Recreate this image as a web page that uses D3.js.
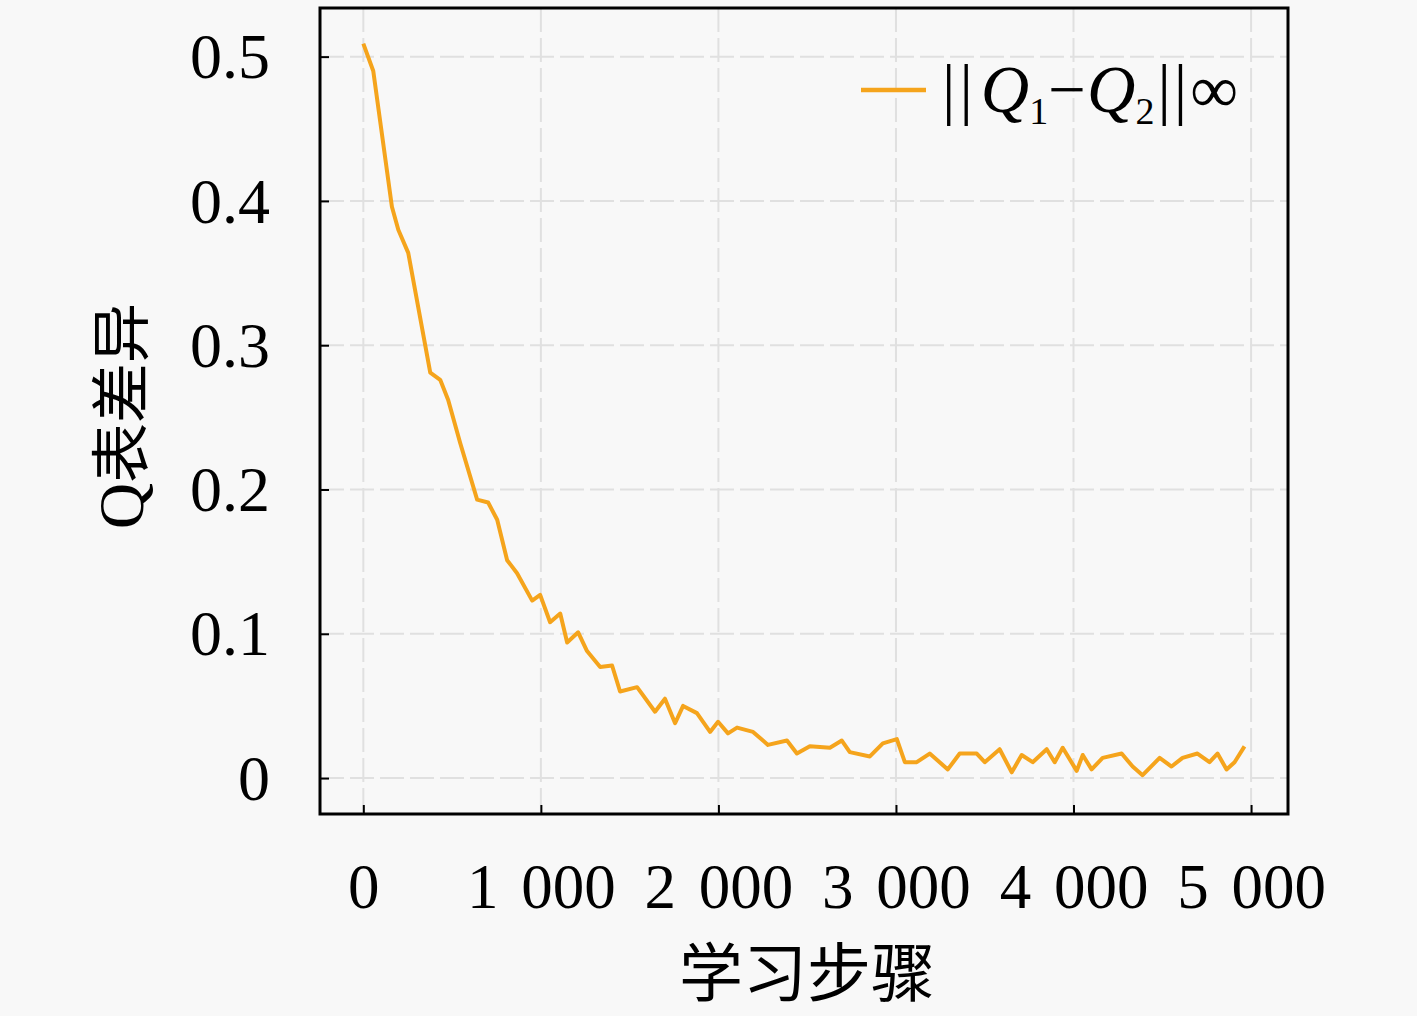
<!DOCTYPE html>
<html>
<head>
<meta charset="utf-8">
<script src="https://cdn.jsdelivr.net/npm/d3@7"></script>
<style>
  html, body { margin: 0; padding: 0; background: #f8f8f8; }
  svg { display: block; }
</style>
</head>
<body>
<svg id="chart" width="1417" height="1016"></svg>
<script>
// ---- data ----
const steps = [0, 56, 161, 197, 253, 377, 433, 478, 546, 641, 703, 754, 810, 866, 951, 996,
  1052, 1109, 1148, 1210, 1260, 1334, 1401, 1446, 1542, 1643, 1699, 1756, 1801, 1879, 1953, 1998,
  2054, 2105, 2195, 2279, 2386, 2442, 2515, 2628, 2695, 2740, 2853, 2926, 3005, 3050, 3117, 3190,
  3292, 3359, 3455, 3500, 3584, 3652, 3708, 3770, 3849, 3894, 3939, 4018, 4052, 4102, 4164, 4271,
  4333, 4389, 4485, 4552, 4614, 4698, 4766, 4811, 4862, 4907, 4963];
const qDiff = [0.509, 0.490, 0.396, 0.380, 0.364, 0.281, 0.276, 0.262, 0.232, 0.193, 0.191, 0.179, 0.151, 0.142, 0.123, 0.127,
  0.108, 0.114, 0.094, 0.101, 0.088, 0.077, 0.078, 0.060, 0.063, 0.046, 0.055, 0.038, 0.050, 0.045, 0.032, 0.039,
  0.031, 0.035, 0.032, 0.023, 0.026, 0.017, 0.022, 0.021, 0.026, 0.018, 0.015, 0.024, 0.027, 0.011, 0.011, 0.017,
  0.006, 0.017, 0.017, 0.011, 0.020, 0.004, 0.016, 0.011, 0.020, 0.011, 0.021, 0.005, 0.016, 0.006, 0.014, 0.017,
  0.008, 0.002, 0.014, 0.008, 0.014, 0.017, 0.011, 0.017, 0.006, 0.011, 0.022];
const xTicks = [0, 1000, 2000, 3000, 4000, 5000];
const xTickLabels = ["0", "1 000", "2 000", "3 000", "4 000", "5 000"];
const yTicks = [0, 0.1, 0.2, 0.3, 0.4, 0.5];
const yTickLabels = ["0", "0.1", "0.2", "0.3", "0.4", "0.5"];
const xTitle = "学习步骤";
const yTitleLatin = "Q";
const yTitleCJK = "表差异";

// ---- layout ----
const box = { left: 320, right: 1288, top: 8, bottom: 814 };
const x = d3.scaleLinear().domain([-244, 5208]).range([box.left, box.right]);
const y = d3.scaleLinear().domain([-0.0249, 0.5337]).range([box.bottom, box.top]);
const lineColor = "#f5a41c";
const serif = "'Liberation Serif', 'DejaVu Serif', serif";
const cjk = "'Noto Sans CJK SC', sans-serif";

const svg = d3.select("#chart");
svg.append("rect").attr("width", 1417).attr("height", 1016).attr("fill", "#f8f8f8");

const g = svg.append("g");

// grid
g.append("g").selectAll("line").data(xTicks).join("line")
  .attr("x1", d => x(d)).attr("x2", d => x(d))
  .attr("y1", box.top).attr("y2", box.bottom)
  .attr("stroke", "#e0e0e0").attr("stroke-width", 2)
  .attr("stroke-dasharray", "24,6");
g.append("g").selectAll("line").data(yTicks).join("line")
  .attr("x1", box.left).attr("x2", box.right)
  .attr("y1", d => y(d)).attr("y2", d => y(d))
  .attr("stroke", "#e0e0e0").attr("stroke-width", 2)
  .attr("stroke-dasharray", "24,6");

// axes with inward ticks
const xAxis = d3.axisBottom(x).tickValues(xTicks).tickSize(-9).tickFormat((d, i) => xTickLabels[i]).tickPadding(0);
const xg = g.append("g").attr("transform", `translate(0,${box.bottom})`).call(xAxis);
xg.select(".domain").remove();
xg.selectAll(".tick line").attr("stroke", "#000").attr("stroke-width", 2);
xg.selectAll(".tick text").attr("font-family", serif).attr("font-size", 63).attr("fill", "#000")
  .attr("dy", 0).attr("y", 94).style("word-spacing", "7px");

const yAxis = d3.axisLeft(y).tickValues(yTicks).tickSize(-9).tickFormat((d, i) => yTickLabels[i]).tickPadding(0);
const yg = g.append("g").attr("transform", `translate(${box.left},0)`).call(yAxis);
yg.select(".domain").remove();
yg.selectAll(".tick line").attr("stroke", "#000").attr("stroke-width", 2);
yg.selectAll(".tick text").attr("font-family", serif).attr("font-size", 64).attr("fill", "#000")
  .attr("x", -50).attr("dy", "0.33em");

// line
const line = d3.line().x((d, i) => x(steps[i])).y(d => y(d));
g.append("path").datum(qDiff)
  .attr("d", line)
  .attr("fill", "none")
  .attr("stroke", lineColor)
  .attr("stroke-width", 4)
  .attr("stroke-linejoin", "round");

// frame
g.append("rect")
  .attr("x", box.left).attr("y", box.top)
  .attr("width", box.right - box.left).attr("height", box.bottom - box.top)
  .attr("fill", "none").attr("stroke", "#000").attr("stroke-width", 3);

// legend
const lg = g.append("g");
lg.append("line").attr("x1", 861).attr("x2", 926).attr("y1", 90).attr("y2", 90)
  .attr("stroke", lineColor).attr("stroke-width", 4.5);
const lt = lg.append("text").attr("x", 942).attr("y", 112)
  .attr("font-family", serif).attr("font-size", 67).attr("fill", "#000");
lt.append("tspan").text("|");
lt.append("tspan").attr("dx", 4).text("|");
lt.append("tspan").attr("dx", 8).attr("font-style", "italic").text("Q");
lt.append("tspan").attr("font-size", 38).attr("dy", 12).text("1");
lt.append("tspan").attr("dy", -12).text("−");
lt.append("tspan").attr("dx", 1).attr("font-style", "italic").text("Q");
lt.append("tspan").attr("font-size", 38).attr("dy", 12).text("2");
lt.append("tspan").attr("dy", -12).attr("dx", 3).text("|");
lt.append("tspan").attr("dx", 3).text("|");
lt.append("tspan").attr("dx", 3).text("∞");

// axis titles
svg.append("text")
  .attr("x", 807).attr("y", 996)
  .attr("text-anchor", "middle")
  .attr("font-family", cjk).attr("font-size", 64).attr("fill", "#000")
  .text(xTitle);

const yt = svg.append("text")
  .attr("transform", "translate(143,416) rotate(-90)")
  .attr("text-anchor", "middle")
  .attr("font-size", 60).attr("fill", "#000");
yt.append("tspan").attr("font-family", serif).attr("font-size", 64).text(yTitleLatin);
yt.append("tspan").attr("font-family", cjk).text(yTitleCJK);
</script>
</body>
</html>
